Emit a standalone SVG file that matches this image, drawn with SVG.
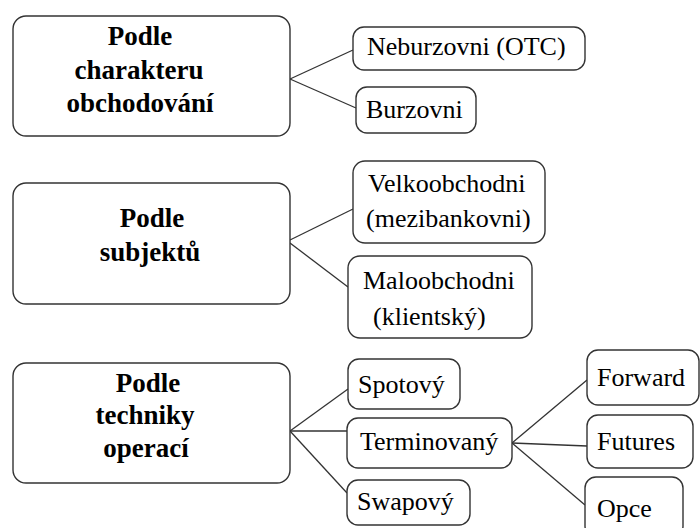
<svg xmlns="http://www.w3.org/2000/svg" width="700" height="528" viewBox="0 0 700 528">
<defs>
<style>
.box{fill:#fff;stroke:#333;stroke-width:1.4}
.c line{stroke:#333;stroke-width:1.3}
</style>
</defs>
<rect width="700" height="528" fill="#fff"/>
<g class="c" id="connectors">
<line x1="290" y1="79" x2="353" y2="50"/>
<line x1="290" y1="79" x2="356" y2="108"/>
<line x1="290" y1="240" x2="353" y2="209"/>
<line x1="290" y1="243" x2="348" y2="287"/>
<line x1="290" y1="431" x2="348" y2="389"/>
<line x1="290" y1="431" x2="347" y2="431"/>
<line x1="290" y1="431" x2="347" y2="493"/>
<line x1="512" y1="443" x2="587" y2="380"/>
<line x1="512" y1="443" x2="587" y2="446"/>
<line x1="512" y1="443" x2="585" y2="505"/>
</g>
<g id="n1"><rect class="box" x="13" y="16" width="277" height="120" rx="13"/>
<text x="140" y="45" font-family="Times New Roman" font-weight="bold" font-size="27" text-anchor="middle">Podle</text>
<text x="139" y="79" font-family="Times New Roman" font-weight="bold" font-size="27" text-anchor="middle">charakteru</text>
<text x="140" y="112" font-family="Times New Roman" font-weight="bold" font-size="27" text-anchor="middle">obchodování</text></g>
<g id="n2"><rect class="box" x="13" y="183" width="277" height="121" rx="13"/>
<text x="152" y="227" font-family="Times New Roman" font-weight="bold" font-size="27" text-anchor="middle">Podle</text>
<text x="150" y="261" font-family="Times New Roman" font-weight="bold" font-size="27" text-anchor="middle">subjektů</text></g>
<g id="n3"><rect class="box" x="13" y="363" width="277" height="120" rx="13"/>
<text x="148" y="392" font-family="Times New Roman" font-weight="bold" font-size="27" text-anchor="middle">Podle</text>
<text x="145" y="424" font-family="Times New Roman" font-weight="bold" font-size="27" text-anchor="middle">techniky</text>
<text x="146" y="457" font-family="Times New Roman" font-weight="bold" font-size="27" text-anchor="middle">operací</text></g>
<g id="n4"><rect class="box" x="353" y="27" width="232" height="43" rx="11"/><text x="367" y="55" font-family="Times New Roman" font-size="26">Neburzovni (OTC)</text></g>
<g id="n5"><rect class="box" x="356" y="87" width="120" height="46" rx="11"/><text x="366" y="118" font-family="Times New Roman" font-size="26">Burzovni</text></g>
<g id="n6"><rect class="box" x="353" y="161" width="192" height="82" rx="12"/><text x="368" y="192" font-family="Times New Roman" font-size="26">Velkoobchodni</text><text x="366" y="227" font-family="Times New Roman" font-size="26">(mezibankovni)</text></g>
<g id="n7"><rect class="box" x="348" y="256" width="184" height="82" rx="12"/><text x="363" y="289" font-family="Times New Roman" font-size="26">Maloobchodni</text><text x="373" y="325" font-family="Times New Roman" font-size="26">(klientský)</text></g>
<g id="n8"><rect class="box" x="348" y="359" width="112" height="50" rx="11"/><text x="358" y="393" font-family="Times New Roman" font-size="26">Spotový</text></g>
<g id="n9"><rect class="box" x="347" y="418" width="165" height="50" rx="11"/><text x="360" y="450" font-family="Times New Roman" font-size="26">Terminovaný</text></g>
<g id="n10"><rect class="box" x="347" y="480" width="123" height="45" rx="11"/><text x="357" y="510" font-family="Times New Roman" font-size="26">Swapový</text></g>
<g id="n11"><rect class="box" x="587" y="350" width="112" height="55" rx="11"/><text x="597" y="386" font-family="Times New Roman" font-size="26">Forward</text></g>
<g id="n12"><rect class="box" x="587" y="415" width="106" height="53" rx="11"/><text x="597" y="450" font-family="Times New Roman" font-size="26">Futures</text></g>
<g id="n13"><rect class="box" x="585" y="477" width="98" height="60" rx="11"/><text x="597" y="517" font-family="Times New Roman" font-size="26">Opce</text></g>
</svg>
